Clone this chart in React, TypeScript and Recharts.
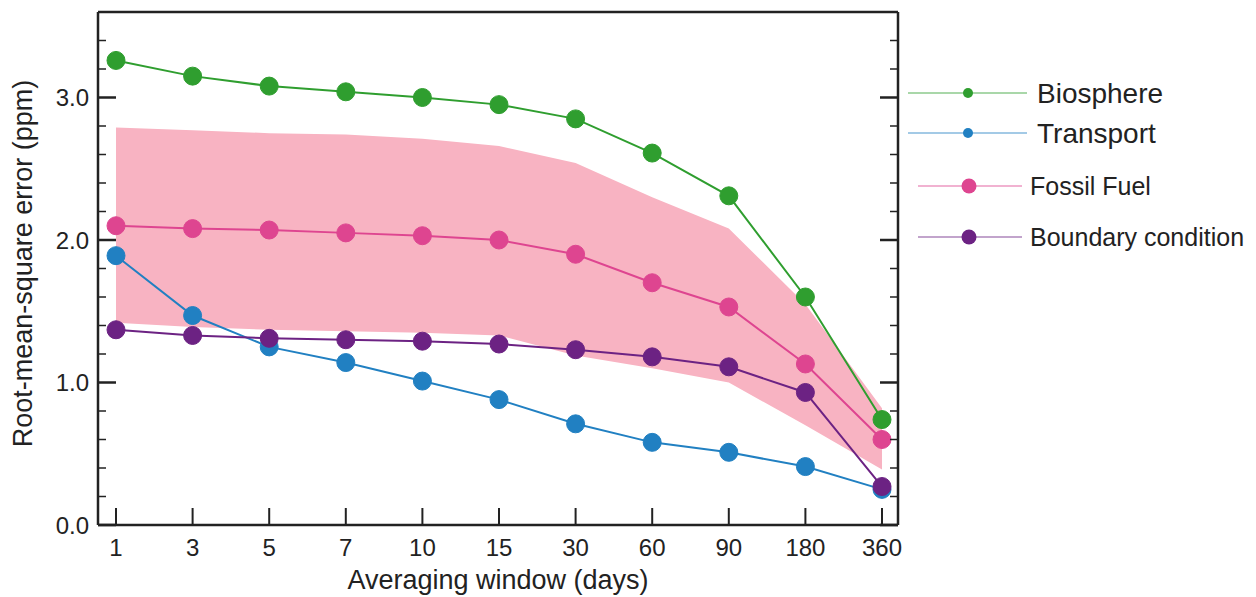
import React from "react";
import {
  ComposedChart,
  Line,
  Area,
  XAxis,
  YAxis,
  Legend,
} from "recharts";

// averaging windows (days)
const windows = ["1", "3", "5", "7", "10", "15", "30", "60", "90", "180", "360"];

// RMSE (ppm) per component
const biosphere = [3.26, 3.15, 3.08, 3.04, 3.0, 2.95, 2.85, 2.61, 2.31, 1.6, 0.74];
const transport = [1.89, 1.47, 1.25, 1.14, 1.01, 0.88, 0.71, 0.58, 0.51, 0.41, 0.25];
const fossilFuel = [2.1, 2.08, 2.07, 2.05, 2.03, 2.0, 1.9, 1.7, 1.53, 1.13, 0.6];
const boundary = [1.37, 1.33, 1.31, 1.3, 1.29, 1.27, 1.23, 1.18, 1.11, 0.93, 0.27];

// shaded fossil fuel range
const fossilLow = [1.42, 1.39, 1.37, 1.36, 1.35, 1.33, 1.19, 1.1, 1.0, 0.7, 0.39];
const fossilHigh = [2.79, 2.77, 2.75, 2.74, 2.71, 2.66, 2.54, 2.3, 2.08, 1.55, 0.82];

const yTicks = [0, 0.2, 0.4, 0.6, 0.8, 1, 1.2, 1.4, 1.6, 1.8, 2, 2.2, 2.4, 2.6, 2.8, 3, 3.2, 3.4];

const FONT = "'Liberation Sans', Arial, Helvetica, sans-serif";
const AXIS = "#222";

const series = [
  { key: "bio", name: "Biosphere", color: "#2f9e2f", values: biosphere },
  { key: "trn", name: "Transport", color: "#2180c2", values: transport },
  { key: "ff", name: "Fossil Fuel", color: "#de4590", values: fossilFuel },
  { key: "bc", name: "Boundary condition", color: "#6c2283", values: boundary },
];

const data = windows.map((w, i) => ({
  w,
  bio: biosphere[i],
  trn: transport[i],
  ff: fossilFuel[i],
  bc: boundary[i],
  band: [fossilLow[i], fossilHigh[i]],
}));

const isMajor = (v: number) => Math.abs(v - Math.round(v)) < 1e-6;

const LeftTick = (props: any) => {
  const { x, y, payload } = props;
  const v = payload.value;
  const major = isMajor(v);
  return (
    <g>
      <line x1={x} x2={x + (major ? 18 : 8)} y1={y} y2={y} stroke={AXIS} strokeWidth={major ? 2.5 : 1.5} />
      {major && (
        <text x={x - 9} y={y} dy="0.36em" textAnchor="end" fontSize={24} fill={AXIS} fontFamily={FONT}>
          {v.toFixed(1)}
        </text>
      )}
    </g>
  );
};

const RightTick = (props: any) => {
  const { x, y, payload } = props;
  const major = isMajor(payload.value);
  return (
    <line x1={x} x2={x - (major ? 18 : 8)} y1={y} y2={y} stroke={AXIS} strokeWidth={major ? 2.5 : 1.5} />
  );
};

const BottomTick = (props: any) => {
  const { x, y, payload } = props;
  return (
    <g>
      <line x1={x} x2={x} y1={y} y2={y - 17} stroke={AXIS} strokeWidth={2} />
      <text x={x} y={y + 22} dy="0.36em" textAnchor="middle" fontSize={24} fill={AXIS} fontFamily={FONT}>
        {payload.value}
      </text>
    </g>
  );
};

const legendRows = [
  { cy: 93, x1: 908, x2: 1027, dot: 968, r: 5, tx: 1037, fs: 28 },
  { cy: 133, x1: 908, x2: 1027, dot: 968, r: 5, tx: 1037, fs: 28 },
  { cy: 186, x1: 918, x2: 1022, dot: 969, r: 7.5, tx: 1030, fs: 25 },
  { cy: 237, x1: 918, x2: 1022, dot: 969, r: 7.5, tx: 1030, fs: 25 },
];

const renderLegend = () => (
  <div style={{ position: "relative", width: 0, height: 0 }}>
    <svg width={1256} height={597} style={{ position: "absolute", left: 0, top: 0, overflow: "visible", pointerEvents: "none" }}>
      {series.map((s, i) => {
        const r = legendRows[i];
        return (
          <g key={s.key}>
            <line x1={r.x1} x2={r.x2} y1={r.cy} y2={r.cy} stroke={s.color} strokeOpacity={0.55} strokeWidth={1.5} />
            <circle cx={r.dot} cy={r.cy} r={r.r} fill={s.color} />
            <text x={r.tx} y={r.cy} dy="0.36em" fontSize={r.fs} fill={AXIS} fontFamily={FONT}>
              {s.name}
            </text>
          </g>
        );
      })}
    </svg>
  </div>
);

const App: React.FC = () => {
  return (
    <div style={{ position: "absolute", left: 0, top: 0, background: "#fff" }}>
      <ComposedChart
        width={1256}
        height={597}
        data={data}
        margin={{ top: 11, right: 357, left: 28, bottom: 12 }}
      >
        <XAxis
          dataKey="w"
          scale="point"
          padding={{ left: 18, right: 16 }}
          height={60}
          tickSize={0}
          tickMargin={0}
          tickLine={false}
          axisLine={{ stroke: AXIS, strokeWidth: 2.5 }}
          tick={BottomTick}
          interval={0}
          label={{
            content: (p: any) => {
              const vb = p.viewBox;
              return (
                <text x={vb.x + vb.width / 2} y={579} dy="0.36em" textAnchor="middle" fontSize={27} fill={AXIS} fontFamily={FONT}>
                  Averaging window (days)
                </text>
              );
            },
          }}
        />
        <XAxis
          xAxisId="top"
          dataKey="w"
          orientation="top"
          scale="point"
          padding={{ left: 18, right: 16 }}
          height={1}
          tick={false}
          tickLine={false}
          axisLine={{ stroke: AXIS, strokeWidth: 2.5 }}
        />
        <YAxis
          domain={[0, 3.6]}
          ticks={yTicks}
          interval={0}
          width={70}
          tickSize={0}
          tickMargin={0}
          tickLine={false}
          axisLine={{ stroke: AXIS, strokeWidth: 2.5 }}
          tick={LeftTick}
          allowDataOverflow
          label={{
            content: (p: any) => {
              const vb = p.viewBox;
              const cx = vb.x - 6;
              const cy = vb.y + vb.height / 2 - 5;
              return (
                <text x={cx} y={cy} dy="0.36em" textAnchor="middle" fontSize={27} fill={AXIS} fontFamily={FONT} transform={`rotate(-90 ${cx} ${cy})`}>
                  Root-mean-square error (ppm)
                </text>
              );
            },
          }}
        />
        <YAxis
          yAxisId="r"
          orientation="right"
          domain={[0, 3.6]}
          ticks={yTicks}
          interval={0}
          width={1}
          tickSize={0}
          tickMargin={0}
          tickLine={false}
          axisLine={{ stroke: AXIS, strokeWidth: 2.5 }}
          tick={RightTick}
          allowDataOverflow
        />
        <Legend content={renderLegend} wrapperStyle={{ position: "absolute", left: 0, top: 0, width: 0, height: 0 }} />
        <Area
          dataKey="band"
          type="linear"
          fill="#f8b3c2"
          fillOpacity={1}
          stroke="none"
          isAnimationActive={false}
          legendType="none"
        />
        {/* invisible series so the frame axes (top / right) get drawn */}
        <Line
          xAxisId="top"
          yAxisId="r"
          dataKey="bio"
          stroke="none"
          dot={false}
          activeDot={false}
          legendType="none"
          isAnimationActive={false}
        />
        {series.map((s) => (
          <Line
            key={s.key}
            dataKey={s.key}
            name={s.name}
            type="linear"
            stroke={s.color}
            strokeWidth={2}
            dot={{ r: 9, fill: s.color, stroke: s.color, strokeWidth: 1 }}
            activeDot={false}
            isAnimationActive={false}
          />
        ))}
      </ComposedChart>
    </div>
  );
};

export default App;
